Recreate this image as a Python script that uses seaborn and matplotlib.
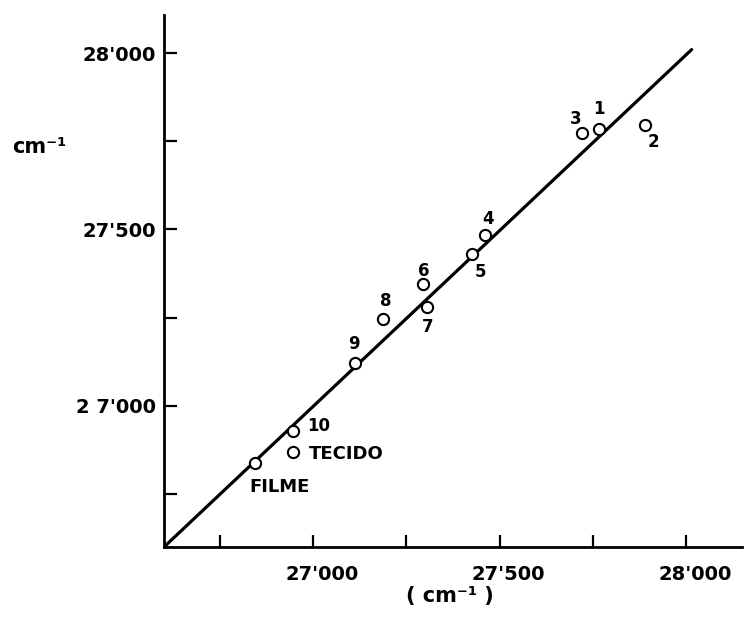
import matplotlib
matplotlib.use("Agg")
import matplotlib.pyplot as plt
import matplotlib.transforms as mtransforms
import seaborn as sns
import pandas as pd

# ---- data ----
point_labels = ["1", "2", "3", "4", "5", "6", "7", "8", "9", "10", "TECIDO", "FILME"]
x_values = [27767, 27891, 27722, 27461, 27427, 27295, 27306, 27188, 27112, 26946, 26946, 26844]
y_values = [27785, 27796, 27774, 27485, 27431, 27346, 27281, 27245, 27122, 26930, 26869, 26838]
line_x = [26600, 28015]
line_y = [26600, 28010]
tick_values = [26750, 27000, 27250, 27500, 27750, 28000]
x_tick_labels = ["", "27'000", "", "27'500", "", "28'000"]
y_tick_labels = ["", "2 7'000", "", "27'500", "", "28'000"]

# label placement (pixels offset, alignment) -- styling only
label_offsets = {
    "1": (0, 20, "center"), "2": (8, -17, "center"), "3": (-7, 14, "center"),
    "4": (3, 16, "center"), "5": (8, -18, "center"), "6": (1, 13, "center"),
    "7": (0, -20, "center"), "8": (2, 18, "center"), "9": (-1, 19, "center"),
    "10": (14, 5, "left"), "TECIDO": (16, -2, "left"), "FILME": (-6, -24, "left"),
}

df = pd.DataFrame({"label": point_labels, "x": x_values, "y": y_values})

sns.set_style("white")
plt.rcParams["font.family"] = ["DejaVu Sans"]
plt.rcParams["text.color"] = "black"
plt.rcParams["xtick.color"] = "black"
plt.rcParams["ytick.color"] = "black"
plt.rcParams["xtick.direction"] = "in"
plt.rcParams["ytick.direction"] = "in"
plt.rcParams["xtick.bottom"] = True
plt.rcParams["ytick.left"] = True
plt.rcParams["xtick.major.size"] = 9
plt.rcParams["ytick.major.size"] = 9
plt.rcParams["xtick.major.width"] = 1.6
plt.rcParams["ytick.major.width"] = 1.6
plt.rcParams["xtick.major.pad"] = 13
plt.rcParams["ytick.major.pad"] = 6

fig = plt.figure(figsize=(7.54, 6.2), dpi=100)
ax = fig.add_axes([164 / 754, (620 - 547) / 620, 578 / 754, 532 / 620])

sns.lineplot(x=line_x, y=line_y, ax=ax, color="black", linewidth=2.3)
sns.scatterplot(data=df, x="x", y="y", ax=ax, marker="o", s=65,
                facecolor="white", edgecolor="black", linewidth=1.5, zorder=5)

for lab, xv, yv in zip(point_labels, x_values, y_values):
    dx, dy, ha = label_offsets[lab]
    ax.annotate(lab, (xv, yv), xytext=(dx, dy), textcoords="offset pixels",
                ha=ha, va="center", fontsize=13 if len(lab) > 2 else 12,
                fontweight="bold", color="black")

ax.set_xlim(26600, 28150)
ax.set_ylim(26600, 28108)
ax.set_xticks(tick_values)
ax.set_xticklabels(x_tick_labels, fontsize=14, fontweight="bold", color="black")
ax.set_yticks(tick_values)
ax.set_yticklabels(y_tick_labels, fontsize=14, fontweight="bold", color="black")
ax.set_xlabel("")
ax.set_ylabel("")

ax.tick_params(axis="x", direction="in", length=9, width=1.6, pad=13,
               bottom=True, top=False)
ax.tick_params(axis="y", direction="in", length=9, width=1.6, pad=6,
               left=True, right=False)

offset = mtransforms.ScaledTranslation(9 / 100, 0, fig.dpi_scale_trans)
for t in ax.get_xticklabels():
    t.set_transform(t.get_transform() + offset)

for side in ["top", "right"]:
    ax.spines[side].set_visible(False)
for side in ["left", "bottom"]:
    ax.spines[side].set_linewidth(2.0)
    ax.spines[side].set_color("black")

fig.text(12 / 754, 1 - 147 / 620, "cm⁻¹", ha="left", va="center",
         fontsize=15, fontweight="bold", color="black")
fig.text(450 / 754, 1 - 596 / 620, "( cm⁻¹ )", ha="center", va="center",
         fontsize=15, fontweight="bold", color="black")

fig.savefig("out.png", dpi=100, facecolor="white")
